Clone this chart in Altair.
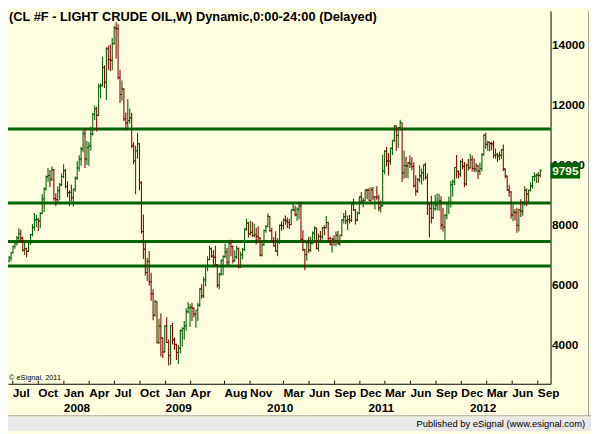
import altair as alt
import pandas as pd

# ------------------------------------------------------------------ data
first_week = "2007-06-18"          # Monday of the first weekly bar

opens = [
    6800, 6890, 7068, 7280, 7395, 7560, 7700, 7550, 7150, 7200,
    7110, 7400, 7670, 7910, 8160, 8170, 8120, 8370, 8860, 9190,
    9590, 9630, 9510, 9820, 8870, 8830, 9130, 9330, 9600, 9790,
    9270, 9060, 9070, 8900, 9180, 9550, 9880, 10180, 10520, 11020,
    10180, 10560, 10620, 11010, 11670, 11850, 11630, 12600, 12630, 13220,
    12740, 13850, 13490, 13460, 14020, 14530, 14510, 12890, 12330, 12510,
    11520, 11380, 11460, 11550, 10620, 10120, 10460, 10690, 9390, 7770,
    7190, 6410, 6780, 6100, 5700, 4990, 5440, 4080, 4630, 4240,
    3770, 4630, 4080, 3650, 4650, 4170, 4020, 3750, 3890, 4480,
    4550, 4630, 5110, 5240, 5250, 5220, 5030, 5160, 5320, 5860,
    5630, 6170, 6630, 6840, 7200, 6950, 6920, 6670, 5990, 6360,
    6810, 6945, 7090, 6750, 7390, 7270, 6800, 6930, 7200, 6600,
    7000, 7180, 7850, 8050, 7700, 7745, 7635, 7670, 7605, 7545,
    6990, 7335, 7805, 7940, 8275, 7800, 7455, 7290, 7120, 7415,
    7980, 7965, 8150, 8125, 8070, 8000, 8487, 8490, 8325, 8512,
    8615, 7510, 7160, 7005, 7400, 7150, 7380, 7720, 7885, 7210,
    7610, 7600, 7900, 7895, 8070, 7540, 7345, 7520, 7460, 7645,
    7365, 7650, 8160, 8265, 8125, 8170, 8145, 8685, 8490, 8150,
    8375, 8920, 8780, 8800, 9150, 9140, 8805, 9155, 8910, 8935,
    8905, 8560, 8620, 9790, 10445, 10115, 10105, 10540, 10795, 11280,
    10965, 11230, 11390, 9720, 9965, 9950, 10060, 10020, 9930, 9300,
    9115, 9495, 9620, 9725, 9987, 9570, 8690, 8540, 8225, 8535,
    8645, 8725, 8795, 7985, 7920, 8300, 8680, 8740, 9330, 9425,
    9900, 9765, 9680, 10095, 9940, 9355, 9970, 9885, 10155, 9870,
    9845, 9955, 9785, 9865, 10325, 10975, 10670, 10740, 10705, 10685,
    10300, 10330, 10280, 10305, 10490, 9850, 9615, 9150, 9085, 8325,
    8410, 8400, 7975, 8495, 8445, 8710, 9145, 9015, 9140, 9285,
    9600, 9615, 9645, 9640,
]

highs = [
    6955, 7099, 7292, 7480, 7620, 7877, 7830, 7600, 7440, 7220,
    7480, 7690, 8020, 8390, 8330, 8220, 8420, 9007, 9240, 9633,
    9882, 9820, 9929, 9850, 9040, 9280, 9380, 9697, 10009, 9850,
    9440, 9148, 9330, 9190, 9600, 10110, 10308, 10585, 11122, 11180,
    10780, 10750, 11250, 11721, 11960, 11920, 12682, 12690, 13582, 13300,
    13900, 13950, 13990, 14200, 14599, 14727, 14660, 13150, 12790, 12530,
    11730, 12170, 11860, 11720, 10740, 10620, 11050, 10700, 9440, 8340,
    7460, 6900, 7120, 6400, 5850, 5500, 5450, 4870, 5050, 4240,
    4650, 4925, 4180, 4650, 4728, 4250, 4040, 4000, 4520, 4592,
    4800, 5219, 5427, 5360, 5400, 5250, 5140, 5400, 5875, 6017,
    6265, 6650, 6950, 7300, 7238, 7150, 7300, 6690, 6400, 6850,
    6978, 7373, 7225, 7400, 7500, 7305, 7150, 7300, 7240, 7100,
    7220, 7870, 8200, 8090, 8128, 8100, 8026, 7900, 7950, 7585,
    7425, 7840, 7980, 8378, 8290, 7900, 7590, 7783, 7549, 8000,
    8102, 8210, 8300, 8234, 8200, 8497, 8715, 8625, 8580, 8697,
    8720, 7810, 7200, 7500, 7600, 7600, 7780, 7950, 7900, 7700,
    7790, 7920, 7980, 8284, 8100, 7600, 7570, 7650, 7770, 7790,
    7650, 8170, 8385, 8476, 8300, 8320, 8727, 8863, 8515, 8440,
    8938, 9088, 8890, 9160, 9195, 9214, 9240, 9250, 8935, 9276,
    8990, 8799, 10322, 10464, 10590, 10382, 10555, 10799, 11292, 11290,
    11240, 11483, 11390, 10463, 10259, 10083, 10305, 10240, 10074, 9640,
    9554, 9973, 9864, 9990, 10062, 9700, 8710, 8960, 8675, 8991,
    9038, 9015, 8940, 8560, 8360, 8710, 8931, 9448, 9500, 9902,
    10316, 9807, 10144, 10200, 10085, 10030, 10183, 10350, 10300, 10200,
    10051, 9987, 10064, 10378, 10995, 11055, 10786, 10748, 10750, 10798,
    10529, 10378, 10422, 10510, 10666, 9870, 9628, 9323, 9108, 8680,
    8520, 8560, 8530, 8841, 8780, 9277, 9200, 9160, 9412, 9616,
    9743, 9700, 9745, 9840,
]

lows = [
    6740, 6785, 7040, 7195, 7310, 7450, 7440, 7110, 6990, 6905,
    7090, 7330, 7610, 7800, 7920, 7790, 7880, 8350, 8410, 9130,
    9420, 9250, 9450, 8790, 8616, 8750, 8810, 9280, 9540, 9200,
    8910, 8611, 8780, 8606, 9090, 9480, 9770, 9960, 10410, 9880,
    9980, 9955, 10460, 10960, 11480, 11100, 11610, 12200, 12590, 12541,
    12140, 13150, 13100, 13130, 13980, 13520, 12823, 12045, 12121, 11434,
    11143, 11140, 11360, 10540, 10010, 9013, 10190, 9140, 7706, 6857,
    6302, 6130, 5970, 5467, 4825, 4950, 4050, 4030, 3620, 3571,
    3750, 4068, 3320, 3340, 4020, 3840, 3501, 3370, 3720, 3953,
    4182, 4476, 5050, 4610, 4800, 4910, 4577, 4800, 5270, 5540,
    5560, 5960, 6450, 6815, 6901, 6650, 6600, 5900, 5854, 6300,
    6320, 6890, 6650, 6650, 6950, 6705, 6767, 6860, 6550, 6555,
    6850, 7115, 7800, 7569, 7640, 7600, 7580, 7340, 7480, 6950,
    6937, 7300, 7730, 7910, 7760, 7413, 7280, 7101, 6950, 7355,
    7800, 7840, 8000, 7880, 7853, 7994, 8442, 8280, 8124, 8182,
    7470, 7130, 6486, 6800, 7050, 7100, 7350, 7500, 7176, 7106,
    7460, 7510, 7640, 7880, 7440, 7310, 7076, 7295, 7270, 7340,
    7300, 7610, 8040, 8010, 7820, 8040, 8090, 8460, 8006, 8110,
    8345, 8756, 8568, 8790, 8848, 8776, 8770, 8810, 8502, 8813,
    8442, 8405, 8610, 9672, 9941, 9635, 9990, 10311, 10745, 10460,
    10549, 11120, 9425, 9527, 9550, 9540, 9881, 9811, 9230, 8961,
    9050, 9411, 9332, 9460, 9500, 8322, 7571, 8040, 8199, 8460,
    8475, 8464, 7838, 7775, 7495, 8182, 8350, 8570, 8937, 9315,
    9545, 9530, 9590, 9837, 9240, 9300, 9800, 9873, 9766, 9746,
    9744, 9520, 9650, 9775, 10300, 10522, 10445, 10438, 10470, 10205,
    10190, 10081, 10139, 10192, 9780, 9545, 9124, 8925, 8201, 8110,
    8140, 7728, 7776, 8250, 8296, 8630, 8621, 8710, 9100, 9202,
    9440, 9385, 9390, 9565,
]

closes = [
    6899, 7068, 7281, 7393, 7557, 7702, 7548, 7147, 7198, 7109,
    7404, 7670, 7910, 8162, 8166, 8122, 8369, 8860, 9186, 9593,
    9632, 9510, 9818, 8871, 8828, 9127, 9331, 9600, 9791, 9269,
    9057, 9071, 8896, 9177, 9550, 9881, 10184, 10515, 11021, 10184,
    10562, 10623, 11014, 11669, 11852, 11632, 12596, 12629, 13219, 12735,
    13854, 13486, 13462, 14021, 14529, 14508, 12888, 12326, 12510, 11520,
    11377, 11459, 11546, 10623, 10118, 10455, 10689, 9388, 7770, 7185,
    6415, 6781, 6104, 5704, 4993, 5443, 4081, 4628, 4236, 3771,
    4634, 4083, 3651, 4647, 4168, 4017, 3751, 3894, 4476, 4552,
    4625, 5106, 5238, 5251, 5224, 5033, 5155, 5320, 5863, 5634,
    6167, 6631, 6844, 7204, 6955, 6916, 6673, 5989, 6356, 6805,
    6945, 7093, 6751, 7389, 7274, 6802, 6929, 7204, 6602, 6995,
    7177, 7853, 8050, 7700, 7743, 7635, 7672, 7605, 7547, 6987,
    7336, 7805, 7936, 8275, 7800, 7454, 7289, 7119, 7413, 7981,
    7966, 8150, 8124, 8068, 8000, 8487, 8492, 8324, 8512, 8615,
    7511, 7161, 7004, 7397, 7151, 7378, 7718, 7886, 7214, 7609,
    7601, 7898, 7895, 8070, 7539, 7346, 7517, 7460, 7645, 7366,
    7649, 8158, 8266, 8125, 8169, 8143, 8685, 8488, 8151, 8376,
    8919, 8779, 8802, 9151, 9138, 8803, 9154, 8911, 8934, 8903,
    8558, 8620, 9788, 10442, 10116, 10107, 10540, 10794, 11279, 10966,
    11229, 11393, 9718, 9965, 9949, 10059, 10022, 9929, 9301, 9116,
    9494, 9620, 9724, 9987, 9570, 8688, 8538, 8226, 8537, 8645,
    8724, 8796, 7985, 7920, 8298, 8680, 8740, 9332, 9426, 9899,
    9767, 9677, 10096, 9941, 9353, 9968, 9883, 10156, 9870, 9846,
    9956, 9784, 9867, 10324, 10977, 10670, 10740, 10706, 10687, 10302,
    10331, 10283, 10305, 10493, 9849, 9613, 9148, 9086, 8323, 8410,
    8403, 7976, 8496, 8445, 8710, 9144, 9013, 9140, 9287, 9601,
    9615, 9647, 9642, 9795,
]

levels = [11180, 8721, 7443, 6623]

month_dates = ["2007-07-01", "2007-10-01", "2008-01-01", "2008-04-01", "2008-07-01",
               "2008-10-01", "2009-01-01", "2009-04-01", "2009-08-01", "2009-11-01",
               "2010-03-01", "2010-06-01", "2010-09-01", "2010-12-01", "2011-03-01",
               "2011-06-01", "2011-09-01", "2011-12-01", "2012-03-01", "2012-06-01",
               "2012-09-01"]
month_names = ["Jul", "Oct", "Jan", "Apr", "Jul", "Oct", "Jan", "Apr", "Aug", "Nov",
               "Mar", "Jun", "Sep", "Dec", "Mar", "Jun", "Sep", "Dec", "Mar", "Jun", "Sep"]
year_dates = ["2008-01-01", "2009-01-01", "2010-01-01", "2011-01-01", "2012-01-01"]
year_names = ["2008", "2009", "2010", "2011", "2012"]
price_ticks = [4000, 6000, 8000, 10000, 12000, 14000]
last_price = 9795

title_text = "(CL #F - LIGHT CRUDE OIL,W) Dynamic,0:00-24:00 (Delayed)"
copyright_text = "\u00a9 eSignal, 2011"
footer_text = "Published by eSignal (www.esignal.com)"

x_domain = ["2007-06-14", "2012-10-17"]
y_domain = [2711, 15105]

# ------------------------------------------------------------------ style
GREEN = "#006400"
RED = "#8B0000"
BG = "#FFFFE0"
FONT = "Liberation Sans"
W, H = 550, 378
PAD_R, PAD_B = 41, 48

# ------------------------------------------------------------------ tables
dates = pd.date_range(first_week, periods=len(closes), freq="7D").strftime("%Y-%m-%d")
bars = pd.DataFrame({"date": dates, "open": opens, "high": highs,
                     "low": lows, "close": closes})
bars["dir"] = ["up" if c >= o else "down" for o, c in zip(opens, closes)]

lvl_df = pd.DataFrame({"level": levels})
month_df = pd.DataFrame({"date": month_dates, "label": month_names})
year_df = pd.DataFrame({"date": year_dates, "label": year_names})
price_df = pd.DataFrame({"price": [last_price], "label": [str(last_price)]})
text_df = pd.DataFrame({"title": [title_text], "copy": [copyright_text],
                        "footer": [footer_text]})


def ts(s):
    return int(pd.Timestamp(s, tz="UTC").value // 10**6)


xs = alt.Scale(domain=[ts(d) for d in x_domain])
ys = alt.Scale(domain=y_domain, nice=False, zero=False)

x_axis = alt.Axis(title=None, labels=False, ticks=False, grid=False,
                  domainColor="black", domainWidth=1)
y_axis = alt.Axis(orient="right", title=None, values=price_ticks, grid=False,
                  ticks=False, tickSize=0, labelPadding=1, labelFont=FONT,
                  labelFontSize=12, labelFontWeight="bold", labelColor="black",
                  domainColor="black", domainWidth=1, labelOverlap=False,
                  format="d")


def X():
    return alt.X("date:T", scale=xs, axis=x_axis)


def Y(field):
    return alt.Y(field, scale=ys, axis=y_axis)


color_enc = alt.Color("dir:N", scale=alt.Scale(domain=["up", "down"],
                                               range=[GREEN, RED]), legend=None)

level_layer = alt.Chart(lvl_df).mark_rule(color=GREEN, strokeWidth=3).encode(
    y=Y("level:Q"))

hl_layer = alt.Chart(bars).mark_rule(strokeWidth=1.1).encode(
    x=X(), y=Y("low:Q"), y2="high:Q", color=color_enc)

open_layer = alt.Chart(bars).mark_rule(strokeWidth=1, xOffset=-2, x2Offset=0).encode(
    x=X(), x2="date:T", y=Y("open:Q"), color=color_enc)

close_layer = alt.Chart(bars).mark_rule(strokeWidth=1, xOffset=0, x2Offset=2).encode(
    x=X(), x2="date:T", y=Y("close:Q"), color=color_enc)

tick_layer = alt.Chart(month_df).mark_rule(color="black", strokeWidth=1).encode(
    x=X(), y=alt.value(H - 3), y2=alt.value(H))

month_layer = alt.Chart(month_df).mark_text(
    align="left", baseline="top", font=FONT, fontSize=12, fontWeight="bold",
    color="black").encode(x=X(), y=alt.value(H + 4), text="label:N")

year_layer = alt.Chart(year_df).mark_text(
    align="left", baseline="top", font=FONT, fontSize=12, fontWeight="bold",
    color="black").encode(x=X(), y=alt.value(H + 19.5), text="label:N")

BOX = "M-1.875,-1L1.875,-1L1.875,1L-1.875,1Z"
box_layer = alt.Chart(price_df).mark_point(
    shape=BOX, filled=True, size=256, color=GREEN, opacity=1, strokeWidth=0).encode(
    x=alt.value(W + 15), y=Y("price:Q"))
box_text = alt.Chart(price_df).mark_text(
    align="center", baseline="middle", font=FONT, fontSize=12, fontWeight="bold",
    color="#FFFFE0").encode(x=alt.value(W + 15), y=Y("price:Q"), text="label:N")

title_layer = alt.Chart(text_df).mark_text(
    align="left", baseline="alphabetic", font=FONT, fontSize=13, fontWeight="bold",
    color="black").encode(x=alt.value(1), y=alt.value(10), text="title:N")

copy_layer = alt.Chart(text_df).mark_text(
    align="left", baseline="alphabetic", font=FONT, fontSize=7.5,
    color="black").encode(x=alt.value(1), y=alt.value(H - 4), text="copy:N")

footer_band = alt.Chart(text_df).mark_rect(color="#E8E8E8").encode(
    x=alt.value(0), x2=alt.value(W + PAD_R), y=alt.value(412), y2=alt.value(H + PAD_B))
footer_line = alt.Chart(text_df).mark_rule(color="#A0A0A0", strokeWidth=1).encode(
    x=alt.value(0), x2=alt.value(W + PAD_R), y=alt.value(410.5))
right_border = alt.Chart(text_df).mark_rule(color="#A0A0A0", strokeWidth=1).encode(
    x=alt.value(588.5), y=alt.value(0), y2=alt.value(411))
footer_text_layer = alt.Chart(text_df).mark_text(
    align="right", baseline="alphabetic", font=FONT, fontSize=9.5,
    color="black").encode(x=alt.value(585), y=alt.value(421.5), text="footer:N")

chart = alt.layer(
    level_layer, hl_layer, open_layer, close_layer, tick_layer,
    month_layer, year_layer, box_layer, box_text, title_layer, copy_layer,
    footer_band, footer_line, right_border, footer_text_layer,
).properties(
    width=W, height=H,
    autosize=alt.AutoSizeParams(type="none"),
    padding={"left": 0, "top": 0, "right": PAD_R, "bottom": PAD_B},
).configure(background=BG).configure_view(strokeWidth=0)

chart.save("out.html", embed_options={"renderer": "svg", "actions": False})
